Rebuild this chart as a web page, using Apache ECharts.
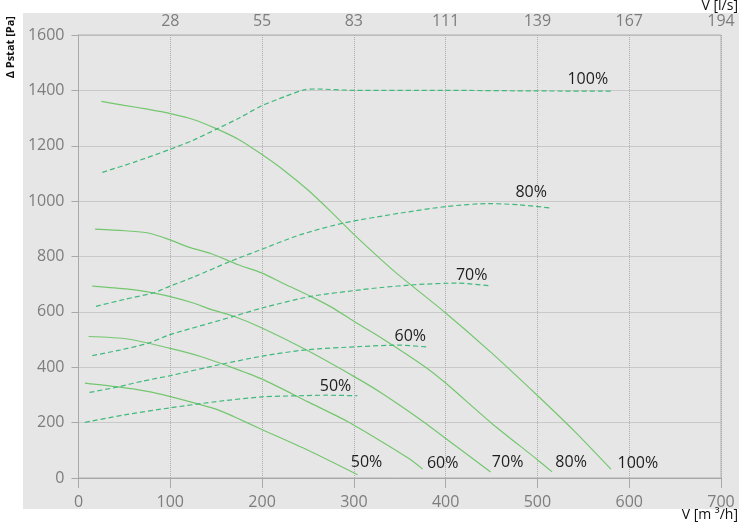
<!DOCTYPE html>
<html><head><meta charset="utf-8">
<script src="https://cdn.jsdelivr.net/npm/echarts@6/dist/echarts.min.js"></script>
<style>html,body{margin:0;padding:0;background:#fff}#c{width:739px;height:524px}</style>
</head><body><div id="c"></div>
<script>
// ---- data (x in m³/h, y in Pa) ----
const topTickLabels = ['', '28', '55', '83', '111', '139', '167', '194'];
const curveLabels = ['100%', '80%', '70%', '60%', '50%'];

const fan100X = [25, 50, 75, 100, 125, 150, 175, 200, 225, 250, 275, 300, 330, 350, 400, 450, 500, 540, 580];
const fan100Y = [1360, 1346, 1332, 1316, 1295, 1262, 1222, 1168, 1108, 1040, 962, 880, 788, 730, 596, 452, 298, 170, 32];
const fan80X = [18, 50, 76, 99, 120, 145, 174, 200, 225, 253, 275, 300, 330, 377, 400, 450, 500, 516];
const fan80Y = [899, 893, 885, 861, 834, 810, 770, 740, 700, 656, 618, 566, 506, 403, 343, 198, 66, 22];
const fan70X = [15, 54, 72, 99, 125, 145, 169, 200, 248, 300, 330, 375, 410, 449];
const fan70Y = [693, 682, 674, 656, 632, 608, 584, 542, 463, 367, 307, 205, 118, 22];
const fan60X = [11, 54, 99, 133, 160, 200, 250, 293, 330, 360, 375];
const fan60Y = [511, 502, 469, 439, 408, 357, 275, 204, 132, 70, 32];
const fan50X = [7, 43, 75, 99, 133, 152, 169, 198, 249, 304];
const fan50Y = [343, 329, 313, 295, 265, 246, 222, 178, 102, 12];

const sys100X = [26, 60, 99, 125, 151, 175, 198, 225, 246, 258, 300, 400, 500, 581];
const sys100Y = [1104, 1140, 1186, 1220, 1261, 1300, 1342, 1378, 1402, 1405, 1400, 1400, 1398, 1397];
const sys80X = [19, 50, 83, 99, 127, 165, 198, 242, 289, 351, 402, 446, 479, 515];
const sys80Y = [620, 645, 670, 692, 728, 782, 824, 879, 921, 957, 981, 991, 987, 975];
const sys70X = [15, 45, 76, 99, 144, 169, 200, 253, 308, 330, 366, 413, 448];
const sys70Y = [442, 462, 487, 517, 560, 584, 614, 656, 680, 688, 698, 704, 694];
const sys60X = [12, 43, 70, 99, 153, 200, 248, 308, 350, 380];
const sys60Y = [309, 329, 350, 369, 409, 440, 463, 475, 480, 473];
const sys50X = [7, 50, 99, 153, 200, 239, 270, 304];
const sys50Y = [201, 228, 253, 277, 293, 297, 299, 297];

// ---- styling ----
const FONT = 'Open Sans';
const fanColor = '#74c76f';
const sysColor = '#3fb97c';
const fans = [[fan100X, fan100Y], [fan80X, fan80Y], [fan70X, fan70Y], [fan60X, fan60Y], [fan50X, fan50Y]];
const syss = [[sys100X, sys100Y], [sys80X, sys80Y], [sys70X, sys70Y], [sys60X, sys60Y], [sys50X, sys50Y]];
const fanOffsets = [[27, -6], [19, -9], [17, -9], [20, -6], [9, -12]];
const sysOffsets = [[-24, -12], [-20, -16], [-18, -10], [-17, -11], [-22, -9]];

const zip = (xs, ys) => xs.map((x, i) => [x, ys[i]]);
const series = [];
fans.forEach((c, i) => {
  series.push({
    type: 'line', name: 'fan ' + curveLabels[i], data: zip(c[0], c[1]),
    smooth: 0.25, symbol: 'none',
    lineStyle: { color: fanColor, width: 1.2 },
    endLabel: { show: true, formatter: curveLabels[i], distance: 0, align: 'center', verticalAlign: 'middle',
      offset: fanOffsets[i], color: '#1e1e1e', fontSize: 16, fontFamily: FONT },
    silent: true
  });
});
syss.forEach((c, i) => {
  series.push({
    type: 'line', name: 'sys ' + curveLabels[i], data: zip(c[0], c[1]),
    smooth: 0.25, symbol: 'none',
    lineStyle: { color: sysColor, width: 1.2, type: [5, 3] },
    endLabel: { show: true, formatter: curveLabels[i], distance: 0, align: 'center', verticalAlign: 'middle',
      offset: sysOffsets[i], color: '#1e1e1e', fontSize: 16, fontFamily: FONT },
    silent: true
  });
});

const gridLine = { show: true, lineStyle: { color: '#acacac', width: 1, type: [1, 1] } };
const chart = echarts.init(document.getElementById('c'), null, { renderer: 'canvas' });
chart.setOption({
  animation: false,
  backgroundColor: '#ffffff',
  textStyle: { fontFamily: FONT },
  grid: { left: 78.5, right: 18, top: 35, bottom: 46, show: true, borderColor: '#b0b0b0', borderWidth: 1, backgroundColor: 'transparent' },
  graphic: [
    { type: 'rect', z: -100, silent: true, shape: { x: 23, y: 13, width: 716, height: 496 }, style: { fill: '#e6e6e6' } },
    { type: 'text', z: 10, left: 5, top: 16, rotation: Math.PI / 2, silent: true,
      style: { text: 'Δ Pstat [Pa]', fill: '#111', font: 'bold 11px "' + FONT + '"' } },
    { type: 'text', z: 10, right: 1, top: -1, silent: true,
      style: { text: 'V [l/s]', fill: '#111', font: '14px "' + FONT + '"' } },
    { type: 'text', z: 10, right: 1, top: 508, silent: true,
      style: { text: 'V [m ³/h]', fill: '#111', font: '14px "' + FONT + '"' } }
  ],
  xAxis: [
    { type: 'value', position: 'bottom', min: 0, max: 700, interval: 100,
      axisLine: { show: true, lineStyle: { color: '#a8a8a8' } },
      axisTick: { show: true, length: 10, lineStyle: { color: '#a8a8a8' } },
      axisLabel: { color: '#7d7d7d', fontSize: 16, margin: 16, fontFamily: FONT, formatter: (v) => String(v) },
      splitLine: gridLine },
    { type: 'value', position: 'top', min: 0, max: 700, interval: 100,
      axisLine: { show: false }, axisTick: { show: false }, splitLine: { show: false },
      axisLabel: { color: '#7d7d7d', fontSize: 16, margin: 6, fontFamily: FONT,
        formatter: (v) => topTickLabels[Math.round(v / 100)] } }
  ],
  yAxis: [
    { type: 'value', min: 0, max: 1600, interval: 200,
      axisLine: { show: true, lineStyle: { color: '#a8a8a8' } },
      axisTick: { show: true, length: 7, lineStyle: { color: '#a8a8a8' } },
      axisLabel: { color: '#7d7d7d', fontSize: 16, margin: 14, fontFamily: FONT, formatter: (v) => String(v) },
      splitLine: gridLine }
  ],
  series: series
});
</script></body></html>
